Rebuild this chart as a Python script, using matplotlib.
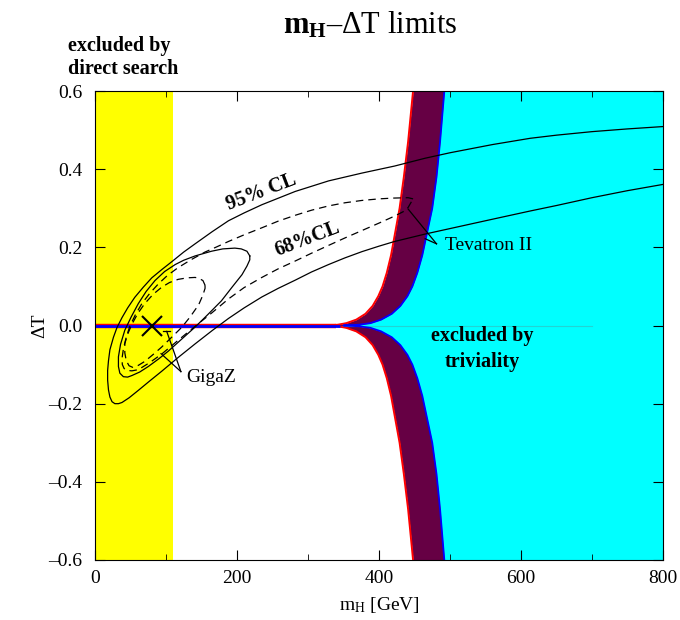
import numpy as np
import matplotlib.pyplot as plt

plt.rcParams['font.family'] = ['Liberation Serif', 'DejaVu Serif']
plt.rcParams['mathtext.fontset'] = 'custom'
plt.rcParams['mathtext.rm'] = 'Liberation Serif'
plt.rcParams['mathtext.bf'] = 'Liberation Serif:bold'
plt.rcParams['mathtext.it'] = 'Liberation Serif:italic'

# excluded by direct search (GeV)
direct_limit = 110

# triviality bound, upper branch (lower branch is the mirror image)
triv_T = [0.0, 0.002, 0.006, 0.015, 0.03, 0.05, 0.075, 0.1, 0.135, 0.18, 0.24,
          0.3, 0.38, 0.47, 0.6]
triv_red = [328, 342, 354, 368, 381, 391, 399, 405, 411, 417, 423, 429, 435, 441, 448]
triv_blue = [350, 372, 388, 403, 418, 430, 440, 447, 454, 461, 468, 475, 481, 486, 492]
triv_start = 340  # both bounds sit on dT = 0 below this mass
cyan_line_end = 700

# Tevatron II, 95% CL (open towards large m_H)
tev95_m = [800, 750, 700, 650, 613, 560, 500, 465, 422, 376, 329, 282, 235, 210,
           188, 165, 141, 125, 108, 94, 80, 68, 56, 46, 38, 31, 26, 21, 19, 17.8,
           17.8, 19, 21, 24, 28, 33, 38, 48, 61, 77, 94, 117, 141, 165, 188, 210,
           235, 258, 282, 305, 329, 352, 376, 400, 422, 465, 500, 560, 613, 650,
           700, 750, 800]
tev95_T = [0.509, 0.503, 0.496, 0.487, 0.479, 0.463, 0.442, 0.428, 0.408, 0.39,
           0.37, 0.343, 0.309, 0.288, 0.268, 0.24, 0.209, 0.188, 0.163, 0.143,
           0.122, 0.098, 0.072, 0.045, 0.02, -0.005, -0.03, -0.062, -0.09, -0.115,
           -0.14, -0.165, -0.183, -0.195, -0.2, -0.2, -0.197, -0.185, -0.166,
           -0.142, -0.117, -0.082, -0.047, -0.013, 0.018, 0.045, 0.073, 0.095,
           0.116, 0.137, 0.156, 0.173, 0.189, 0.203, 0.215, 0.234, 0.248, 0.272,
           0.293, 0.307, 0.327, 0.345, 0.361]

# Tevatron II, 68% CL
tev68_m = [448, 441, 420, 400, 376, 352, 329, 305, 282, 258, 235, 210, 188, 170,
           155, 135, 117, 102, 89, 77, 66, 57, 49, 44, 40, 38, 38.5, 41, 45, 52,
           61, 77, 94, 117, 141, 165, 188, 210, 235, 258, 282, 305, 329, 352, 376,
           400, 422, 436, 441, 448]
tev68_T = [0.324, 0.327, 0.326, 0.324, 0.32, 0.314, 0.306, 0.295, 0.282, 0.267,
           0.25, 0.232, 0.215, 0.2, 0.188, 0.168, 0.148, 0.128, 0.106, 0.082,
           0.056, 0.028, -0.002, -0.03, -0.06, -0.085, -0.1, -0.11, -0.115, -0.116,
           -0.113, -0.095, -0.073, -0.038, -0.002, 0.033, 0.068, 0.097, 0.123,
           0.145, 0.165, 0.185, 0.205, 0.224, 0.243, 0.262, 0.28, 0.293, 0.302,
           0.324]

# GigaZ, 95% CL
gz95_m = [218, 214, 206, 197, 180, 164, 141, 125, 113, 98, 84.5, 72, 61, 51, 42,
          36, 33, 33, 35, 40, 46, 52, 63, 75, 90, 103, 122, 141, 160, 178, 193,
          207, 214, 218, 218]
gz95_T = [0.178, 0.19, 0.196, 0.198, 0.196, 0.19, 0.178, 0.167, 0.156, 0.138,
          0.115, 0.087, 0.056, 0.022, -0.012, -0.048, -0.08, -0.105, -0.122,
          -0.131, -0.132, -0.128, -0.119, -0.105, -0.085, -0.066, -0.035, -0.004,
          0.03, 0.063, 0.098, 0.13, 0.152, 0.168, 0.178]

# GigaZ, 68% CL
gz68_m = [155, 152, 146, 141, 130, 117, 105, 94, 82, 70, 60, 52, 46, 42, 42, 44,
          48, 53, 61, 70, 82, 94, 108, 122, 134, 146, 152, 155, 155]
gz68_T = [0.103, 0.115, 0.121, 0.123, 0.122, 0.118, 0.11, 0.098, 0.08, 0.056,
          0.03, 0.003, -0.022, -0.046, -0.07, -0.09, -0.103, -0.107, -0.102,
          -0.092, -0.074, -0.055, -0.03, -0.005, 0.022, 0.053, 0.078, 0.095, 0.103]

best_fit = (80, 0.0)

xticks = [0, 200, 400, 600, 800]
xminor = [100, 300, 500, 700]
yticks = [-0.6, -0.4, -0.2, 0.0, 0.2, 0.4, 0.6]
ytick_labels = ['–0.6', '–0.4', '–0.2', '0.0', '0.2', '0.4', '0.6']

fig = plt.figure(figsize=(6.8, 6.2), dpi=100)
ax = fig.add_axes([95 / 680, 1 - 560 / 620, 568 / 680, 469 / 620])
ax.set_xlim(0, 800)
ax.set_ylim(-0.6, 0.6)

# shaded regions
ax.axvspan(0, direct_limit, color='#ffff00', lw=0, zorder=0)

T_up = np.array(triv_T)
T_all = np.concatenate([-T_up[::-1], T_up[1:]])
red_all = np.concatenate([np.array(triv_red)[::-1], triv_red[1:]])
blue_all = np.concatenate([np.array(triv_blue)[::-1], triv_blue[1:]])
ax.fill_betweenx(T_all, blue_all, 800, color='#00ffff', lw=0, zorder=1)
ax.fill_betweenx(T_all, red_all, blue_all, color='#660044', lw=0, zorder=1)
ax.plot([0, cyan_line_end], [0, 0], color='#22d4d4', lw=0.8, zorder=1.5)
ax.plot(red_all, T_all, color='#ff0000', lw=1.4, zorder=2)
ax.plot(blue_all, T_all, color='#0000ff', lw=1.3, zorder=2.1)
ax.plot([0, triv_start], [0, 0], color='#ff0000', lw=3.2, zorder=2,
        solid_capstyle='butt')
ax.plot([0, triv_start + 5], [0, 0], color='#0000ff', lw=2.0, zorder=2.1,
        solid_capstyle='butt')

# contours
ax.plot(tev95_m, tev95_T, color='black', lw=0.9, zorder=3)
ax.plot(tev68_m, tev68_T, color='black', lw=0.9, ls=(0, (6, 4)), zorder=3)
ax.plot(gz95_m, gz95_T, color='black', lw=0.9, zorder=3)
ax.plot(gz68_m, gz68_T, color='black', lw=0.9, ls=(0, (6, 4)), zorder=3)
ax.plot(*best_fit, marker='x', ms=14, mew=1.5, color='black', zorder=4)

# labels with pointer lines
ax.plot([481, 441], [0.209, 0.298], color='black', lw=0.9, zorder=4)
ax.plot([481, 465], [0.209, 0.222], color='black', lw=0.9, zorder=4)
ax.text(493, 0.205, 'Tevatron II', fontsize=14, va='center', ha='left', zorder=5)

ax.plot([121, 101], [-0.118, -0.015], color='black', lw=0.9, zorder=4)
ax.plot([121, 93], [-0.118, -0.072], color='black', lw=0.9, zorder=4)
ax.plot([96, 106], [-0.015, -0.015], color='black', lw=0.9, zorder=4)
ax.text(128, -0.134, 'GigaZ', fontsize=14, va='center', ha='left', zorder=5)

ax.text(234, 0.34, '95% CL', fontsize=14.5, fontweight='bold', rotation=21,
        ha='center', va='center', zorder=5)
ax.text(299, 0.22, '68%CL', fontsize=14.5, fontweight='bold', rotation=21,
        ha='center', va='center', zorder=5)
ax.text(545, -0.06, 'excluded by\ntriviality', fontsize=14.5, fontweight='bold',
        ha='center', va='center', linespacing=1.35, zorder=5)

fig.text(68 / 680, 1 - 58 / 620, 'excluded by\ndirect search', fontsize=14.5,
         fontweight='bold', ha='left', va='center', linespacing=1.2)
fig.text(370 / 680, 1 - 25 / 620, r'$\mathbf{m_H}$–ΔT limits', fontsize=22,
         ha='center', va='center')

ax.set_xticks(xticks)
ax.set_xticks(xminor, minor=True)
ax.set_yticks(yticks)
ax.set_yticklabels(ytick_labels)
ax.tick_params(which='both', direction='in', top=True, right=True, labelsize=14)
ax.tick_params(which='major', length=7)
ax.tick_params(which='minor', length=4)
ax.tick_params(axis='x', pad=7)
ax.tick_params(axis='y', pad=9)
for s in ax.spines.values():
    s.set_zorder(6)

ax.set_xlabel(r'$\mathrm{m_H}$ [GeV]', fontsize=14, labelpad=6)
ax.set_ylabel('ΔT', fontsize=14)
ax.yaxis.set_label_coords(-0.082, 0.5)

fig.savefig('out.png', dpi=100)
